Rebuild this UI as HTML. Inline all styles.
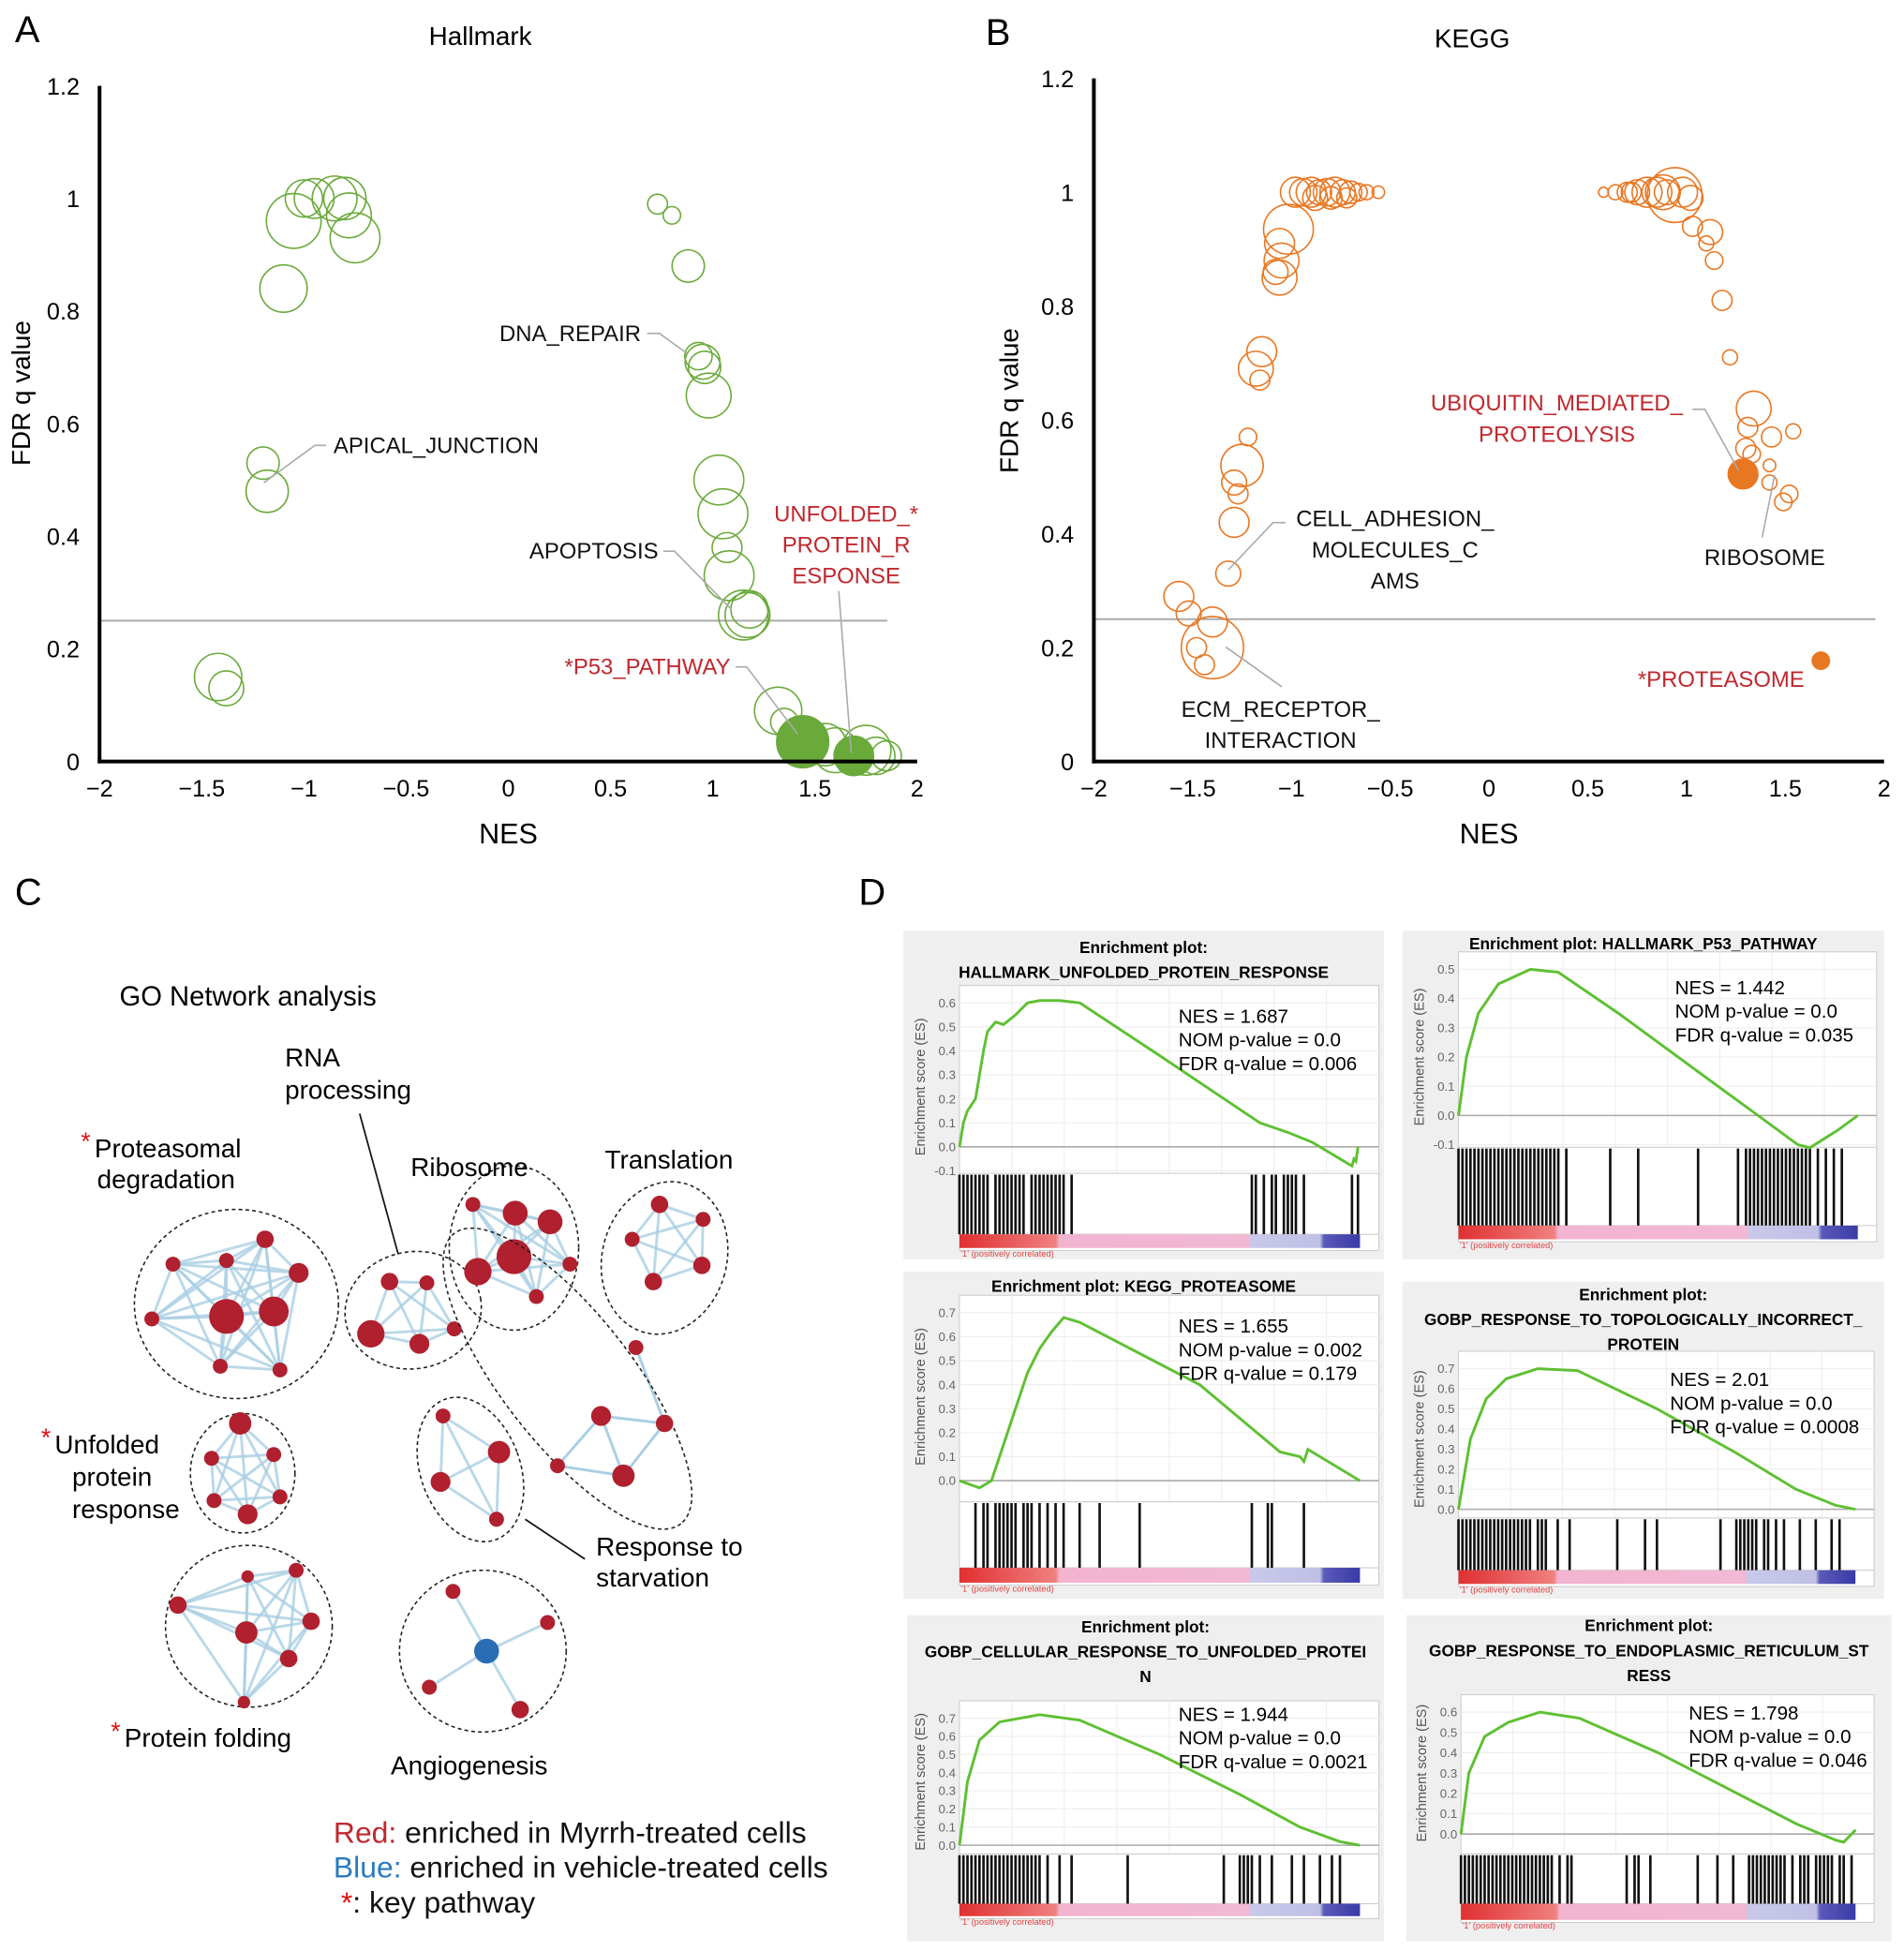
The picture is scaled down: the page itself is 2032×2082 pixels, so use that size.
<!DOCTYPE html>
<html><head><meta charset="utf-8">
<style>
html,body{margin:0;padding:0;background:#fff;}
svg{display:block;font-family:"Liberation Sans",Arial,sans-serif;}
</style></head>
<body>
<svg id="fig" width="2032" height="2082" viewBox="0 0 1530 1568" preserveAspectRatio="none" xmlns="http://www.w3.org/2000/svg">
<g id="pA"></g>
<g id="pB"></g>
<g id="pC"></g>
<g id="pD"></g>
</svg>
<script>
// ---------- Panel A data ----------
const hallNES = [-0.85,-0.8,-0.95,-1.0,-0.78,-0.75,-1.05,-1.1,0.73,0.8,0.88,0.93,0.95,0.96,0.98,-1.2,-1.18,1.03,1.05,1.07,1.08,1.15,1.17,1.18,-1.42,-1.38,1.32,1.35,1.55,1.6,1.75,1.8,1.85];
const hallFDR = [1.0,1.0,1.0,1.0,0.97,0.93,0.96,0.84,0.99,0.97,0.88,0.72,0.71,0.7,0.65,0.53,0.48,0.5,0.44,0.38,0.33,0.26,0.26,0.27,0.15,0.13,0.09,0.07,0.03,0.02,0.02,0.01,0.01];
const hallSize = [18,17,16,15,18,20,22,19,8,7,13,11,14,13,18,13,17,20,20,12,20,20,18,15,19,14,19,11,17,18,20,15,12];
const hallKeyNES = [1.44,1.69];
const hallKeyFDR = [0.035,0.01];
const hallKeySize = [21,16];
const hallTicksX = [-2,-1.5,-1,-0.5,0,0.5,1,1.5,2];
const hallTicksY = [0,0.2,0.4,0.6,0.8,1,1.2];
// ---------- Panel B data ----------
const keggNES = [-0.98,-0.94,-0.9,-0.86,-0.82,-0.78,-0.74,-0.7,-0.66,-0.62,-0.56,-0.88,-0.8,-0.72,-1.015,-1.06,-1.05,-1.08,-1.06,-1.15,-1.18,-1.16,-1.22,-1.25,-1.29,-1.27,-1.29,-1.32,-1.57,-1.52,-1.4,-1.4,-1.48,-1.44,
 0.58,0.64,0.7,0.75,0.8,0.85,0.88,0.94,0.98,1.02,0.72,0.9,1.03,1.12,1.1,1.14,1.18,1.22,1.34,1.31,1.43,1.54,1.3,1.33,1.42,1.42,1.52,1.49];
const keggFDR = [1.0,1.0,1.0,1.0,1.0,1.0,1.0,1.0,1.0,1.0,1.0,0.99,0.99,0.99,0.935,0.91,0.88,0.86,0.85,0.72,0.69,0.67,0.57,0.52,0.49,0.47,0.42,0.33,0.29,0.26,0.245,0.2,0.2,0.17,
 1.0,1.0,1.0,1.0,1.0,1.0,1.0,0.995,1.0,0.99,1.0,1.0,0.94,0.93,0.91,0.88,0.81,0.71,0.62,0.587,0.57,0.58,0.55,0.54,0.52,0.49,0.47,0.456];
const keggSize = [12,11,12,10,11,12,10,9,7,6,5,10,9,8,20,12,14,10,14,12,14,8,7,17,10,8,12,10,12,10,12,25,8,8,
 4,6,8,10,12,12,14,22,12,10,8,10,8,10,6,7,8,6,14,8,8,6,8,7,5,6,7,7];
const keggKeyNES = [1.286,1.68];
const keggKeyFDR = [0.505,0.177];
const keggKeySize = [12,7];
const keggTicksX = [-2,-1.5,-1,-0.5,0,0.5,1,1.5,2];
const keggTicksY = [0,0.2,0.4,0.6,0.8,1,1.2];
// ---------- Panel D data ----------
const es1X = [0,0.01,0.02,0.04,0.05,0.06,0.07,0.09,0.11,0.14,0.17,0.2,0.25,0.3,0.5,0.75,0.82,0.88,0.98,0.985,0.99,0.995];
const es1Y = [0,0.1,0.15,0.2,0.3,0.4,0.48,0.52,0.51,0.55,0.6,0.61,0.61,0.6,0.38,0.1,0.06,0.02,-0.08,-0.05,-0.06,0.0];
const es2X = [0,0.02,0.05,0.1,0.18,0.25,0.4,0.6,0.75,0.85,0.88,0.95,1.0];
const es2Y = [0,0.2,0.35,0.45,0.5,0.49,0.35,0.15,0.0,-0.1,-0.11,-0.05,0.0];
const es3X = [0,0.05,0.08,0.1,0.13,0.17,0.2,0.23,0.26,0.3,0.6,0.8,0.85,0.86,0.87,1.0];
const es3Y = [0,-0.03,0.0,0.1,0.25,0.45,0.55,0.62,0.68,0.66,0.4,0.12,0.1,0.08,0.13,0.0];
const es4X = [0,0.03,0.07,0.12,0.2,0.3,0.5,0.7,0.85,0.95,1];
const es4Y = [0,0.35,0.55,0.65,0.7,0.69,0.5,0.28,0.1,0.02,0];
const es5X = [0,0.02,0.05,0.1,0.2,0.3,0.5,0.7,0.85,0.95,1];
const es5Y = [0,0.35,0.58,0.68,0.72,0.69,0.5,0.28,0.1,0.02,0];
const es6X = [0,0.02,0.06,0.12,0.2,0.3,0.5,0.7,0.85,0.95,0.97,1];
const es6Y = [0,0.3,0.48,0.55,0.6,0.57,0.4,0.2,0.05,-0.03,-0.04,0.02];
const hits1 = [0.0,0.01,0.02,0.03,0.04,0.05,0.06,0.07,0.09,0.1,0.11,0.12,0.13,0.14,0.15,0.16,0.18,0.19,0.2,0.21,0.22,0.23,0.24,0.25,0.26,0.28,0.73,0.74,0.76,0.78,0.79,0.81,0.82,0.83,0.84,0.86,0.98,0.995];
const hits2 = [0.0,0.01,0.02,0.03,0.04,0.05,0.06,0.07,0.08,0.09,0.1,0.11,0.12,0.13,0.14,0.15,0.16,0.17,0.18,0.19,0.2,0.21,0.22,0.23,0.24,0.25,0.27,0.38,0.45,0.6,0.7,0.72,0.73,0.74,0.75,0.76,0.77,0.78,0.79,0.8,0.81,0.82,0.83,0.84,0.85,0.86,0.87,0.88,0.9,0.92,0.94,0.96];
const hits3 = [0.04,0.06,0.07,0.09,0.1,0.11,0.12,0.13,0.14,0.16,0.17,0.18,0.2,0.22,0.24,0.26,0.3,0.35,0.45,0.73,0.77,0.78,0.86];
const hits4 = [0.0,0.01,0.02,0.03,0.04,0.05,0.06,0.07,0.08,0.09,0.1,0.11,0.12,0.13,0.14,0.15,0.16,0.17,0.18,0.2,0.21,0.22,0.25,0.28,0.4,0.47,0.5,0.66,0.7,0.71,0.72,0.73,0.74,0.75,0.77,0.78,0.8,0.82,0.86,0.9,0.94,0.96];
const hits5 = [0.0,0.01,0.02,0.03,0.04,0.05,0.06,0.07,0.08,0.09,0.1,0.11,0.12,0.13,0.14,0.15,0.16,0.17,0.18,0.19,0.2,0.22,0.25,0.28,0.42,0.66,0.7,0.71,0.72,0.73,0.75,0.78,0.83,0.86,0.9,0.93,0.95];
const hits6 = [0.0,0.01,0.02,0.03,0.04,0.05,0.06,0.07,0.08,0.09,0.1,0.11,0.12,0.13,0.14,0.15,0.16,0.17,0.18,0.19,0.2,0.21,0.22,0.23,0.25,0.27,0.28,0.42,0.44,0.45,0.48,0.6,0.65,0.69,0.73,0.74,0.75,0.76,0.77,0.78,0.79,0.8,0.81,0.82,0.84,0.86,0.87,0.88,0.9,0.91,0.92,0.93,0.94,0.96,0.97,0.99];
const esTicks1 = [-0.1,0,0.1,0.2,0.3,0.4,0.5,0.6];
const esTicks2 = [-0.1,0,0.1,0.2,0.3,0.4,0.5];
const esTicks3 = [0,0.1,0.2,0.3,0.4,0.5,0.6,0.7];
const esTicks4 = [0,0.1,0.2,0.3,0.4,0.5,0.6,0.7];
const esTicks5 = [0,0.1,0.2,0.3,0.4,0.5,0.6,0.7];
const esTicks6 = [0,0.1,0.2,0.3,0.4,0.5,0.6];

const NS="http://www.w3.org/2000/svg";
function mk(parent, tag, attrs, text){
  const e=document.createElementNS(NS,tag);
  for(const k in attrs) e.setAttribute(k,attrs[k]);
  if(text!==undefined) e.textContent=text;
  parent.appendChild(e); return e;
}
function fmt(v){ return (v<0?'\u2212':'')+String(Math.abs(v)); }

function scatter(g, cfg){
  const sx=v=>cfg.x0+(v-(-2))/4*(cfg.x1-cfg.x0);
  const sy=v=>cfg.y0-(v/1.2)*(cfg.y0-cfg.y1);
  let t=mk(g,'text',{x:cfg.letterX,y:cfg.letterY,'font-size':30},cfg.letter);
  
  
  t=mk(g,'text',{x:cfg.titleX,y:cfg.titleY,'font-size':21,'text-anchor':'middle'},cfg.title);
  
  
  let l=mk(g,'line',{x1:cfg.x0,x2:cfg.thrX2,y1:sy(0.25),y2:sy(0.25),stroke:'#aaa','stroke-width':1.5});
  
  
  for(let i=0;i<cfg.nes.length;i++){
    const c=mk(g,'circle',{cx:sx(cfg.nes[i]),cy:sy(cfg.fdr[i]),r:cfg.size[i],fill:'none',stroke:cfg.color,'stroke-width':1.2});
    
    
  }
  for(let i=0;i<cfg.kNes.length;i++){
    const c=mk(g,'circle',{cx:sx(cfg.kNes[i]),cy:sy(cfg.kFdr[i]),r:cfg.kSize[i],fill:cfg.color,stroke:cfg.color});
    
    
  }
  l=mk(g,'line',{x1:cfg.x0,x2:cfg.x0,y1:cfg.y1,y2:cfg.y0+1.5,stroke:'#000','stroke-width':3});
  
  
  l=mk(g,'line',{x1:cfg.x0-1.5,x2:cfg.x1,y1:cfg.y0,y2:cfg.y0,stroke:'#000','stroke-width':3});
  
  
  cfg.tx.forEach(v=>{
    const tt=mk(g,'text',{x:sx(v),y:cfg.y0+28,'font-size':19,'text-anchor':'middle'},fmt(v));
    
    
  });
  cfg.ty.forEach(v=>{
    const tt=mk(g,'text',{x:cfg.x0-16,y:sy(v)+7,'font-size':19,'text-anchor':'end'},String(v));
    
    
  });
  t=mk(g,'text',{x:(cfg.x0+cfg.x1)/2,y:cfg.y0+66,'font-size':23,'text-anchor':'middle'},'NES');
  
  
  t=mk(g,'text',{x:0,y:0,'font-size':21,'text-anchor':'middle',transform:`translate(${cfg.ytX},${cfg.ytY}) rotate(-90)`},'FDR q value');
  
  
  cfg.labels.forEach(L=>{
    L.lines.forEach((s,j)=>{
      const tt=mk(g,'text',{x:L.x,y:L.y+j*25,'font-size':18,'text-anchor':L.anchor,fill:L.red?'#c0282e':'#111'},s);
      
      
    });
    const pl=mk(g,'polyline',{points:L.leader,fill:'none',stroke:'#aaa','stroke-width':1.2});
    
    
  });
}
scatter(document.getElementById('pA'),{x0:80,x1:737,y0:612,y1:69,thrX2:713,color:'#6aaa3a',
 nes:hallNES,fdr:hallFDR,size:hallSize,kNes:hallKeyNES,kFdr:hallKeyFDR,kSize:hallKeySize,tx:hallTicksX,ty:hallTicksY,
 letter:'A',letterX:12,letterY:34,title:'Hallmark',titleX:386,titleY:36,ytX:24,ytY:316,
 labels:[
  {lines:['DNA_REPAIR'],x:515,y:274,anchor:'end',leader:'520,268 530,268 552,284'},
  {lines:['APICAL_JUNCTION'],x:268,y:364,anchor:'start',leader:'262,358 253,358 212,388'},
  {lines:['APOPTOSIS'],x:529,y:449,anchor:'end',leader:'533,443 542,443 588,490'},
  {lines:['UNFOLDED_*','PROTEIN_R','ESPONSE'],x:680,y:419,anchor:'middle',red:1,leader:'674,475 684,605'},
  {lines:['*P53_PATHWAY'],x:587,y:542,anchor:'end',red:1,leader:'591,536 600,536 641,590'}
 ]});
scatter(document.getElementById('pB'),{x0:879,x1:1514,y0:612,y1:63,thrX2:1507,color:'#e87722',
 nes:keggNES,fdr:keggFDR,size:keggSize,kNes:keggKeyNES,kFdr:keggKeyFDR,kSize:keggKeySize,tx:keggTicksX,ty:keggTicksY,
 letter:'B',letterX:792,letterY:36,title:'KEGG',titleX:1183,titleY:38,ytX:818,ytY:322,
 labels:[
  {lines:['UBIQUITIN_MEDIATED_','PROTEOLYSIS'],x:1251,y:330,anchor:'middle',red:1,leader:'1360,329 1370,329 1397,378'},
  {lines:['CELL_ADHESION_','MOLECULES_C','AMS'],x:1121,y:423,anchor:'middle',leader:'1033,420 1023,420 987,458'},
  {lines:['RIBOSOME'],x:1418,y:454,anchor:'middle',leader:'1416,432 1426,382'},
  {lines:['ECM_RECEPTOR_','INTERACTION'],x:1029,y:576,anchor:'middle',leader:'1030,552 985,520'},
  {lines:['*PROTEASOME'],x:1450,y:552,anchor:'end',red:1,leader:'1462,535 1462,535'}
 ]});

(function(){
  const g=document.getElementById('pC');
  let t=mk(g,'text',{x:12,y:727,'font-size':30},'C');
  
  
  t=mk(g,'text',{x:96,y:808,'font-size':22},'GO Network analysis');
  
  
  const clusters=[
   {name:'proteasomal-degradation',e:[190,1048,82,76,0],n:[[182,1058,14],[220,1054,12],[213,996,7],[182,1013,6],[139,1016,6],[122,1060,6],[177,1098,6],[225,1101,6],[240,1023,8]]},
   {name:'unfolded-protein-response',e:[195,1184,42,48,0],n:[[193,1144,9],[170,1172,6],[220,1169,6],[172,1206,6],[199,1217,8],[225,1203,6]]},
   {name:'protein-folding',e:[200,1307,67,65,0],n:[[143,1290,7],[199,1267,5],[238,1262,6],[250,1303,7],[198,1312,9],[232,1333,7],[196,1368,5]]},
   {name:'rna-processing',e:[332,1053,55,47,-10],n:[[313,1030,7],[343,1031,6],[298,1072,11],[337,1080,8],[365,1068,6]]},
   {name:'ribosome',e:[413,1003,52,66,0],n:[[380,968,6],[414,975,10],[442,982,10],[413,1010,14],[384,1022,11],[458,1016,6],[431,1042,6]]},
   {name:'translation',e:[534,1011,50,62,15],n:[[530,968,7],[565,980,6],[508,996,6],[564,1017,7],[525,1030,7]]},
   {name:'response-to-starvation',e:[378,1181,40,60,-20],n:[[356,1138,6],[401,1167,9],[354,1191,8],[399,1221,6]]},
   {name:'angiogenesis',e:[388,1327,67,65,0],n:[[391,1327,10,1],[364,1279,6],[440,1304,6],[345,1356,6],[418,1374,7]]}
  ];
  const edges=[];
  clusters.forEach(c=>{ for(let i=0;i<c.n.length;i++) for(let j=i+1;j<c.n.length;j++){
    if(c.name==='angiogenesis' && i!==0) continue;
    edges.push([c.n[i],c.n[j]]);
  }});
  edges.forEach(([a,b])=>{
    const l=mk(g,'line',{x1:a[0],y1:a[1],x2:b[0],y2:b[1],stroke:'#a9cfe3','stroke-width':2.2,opacity:0.8});
    
    
  });
  const longN=[[511,1083,6],[483,1138,8],[534,1144,7],[448,1178,6],[501,1186,9]];
  [[0,2],[1,2],[1,3],[1,4],[3,4],[2,4]].forEach(([i,j])=>{
    const l=mk(g,'line',{x1:longN[i][0],y1:longN[i][1],x2:longN[j][0],y2:longN[j][1],stroke:'#a9cfe3','stroke-width':2.2});
    
    
  });
  clusters.forEach(c=>{
    const [cx,cy,rx,ry,rot]=c.e;
    const el=mk(g,'ellipse',{cx,cy,rx,ry,transform:`rotate(${rot} ${cx} ${cy})`,fill:'none',stroke:'#222','stroke-width':1.2,'stroke-dasharray':'3,2.5'});
    
    
    c.n.forEach(n=>{
      const nd=mk(g,'circle',{cx:n[0],cy:n[1],r:n[2],fill:n[3]?'#2a6db5':'#b0202e'});
      
      
    });
  });
  let el=mk(g,'ellipse',{cx:456,cy:1108,rx:148,ry:52,transform:'rotate(52 456 1108)',fill:'none',stroke:'#222','stroke-width':1.2,'stroke-dasharray':'3,2.5'});
  
  
  longN.forEach(n=>{
    const nd=mk(g,'circle',{cx:n[0],cy:n[1],r:n[2],fill:'#b0202e'});
    
    
  });
  let l=mk(g,'line',{x1:289,y1:895,x2:320,y2:1008,stroke:'#111','stroke-width':1.3});
  
  
  l=mk(g,'line',{x1:422,y1:1221,x2:470,y2:1253,stroke:'#111','stroke-width':1.3});
  
  
  const labs=[['RNA',229,857,0],['processing',229,883,0],['Proteasomal',76,930,1],['degradation',78,955,0],['Ribosome',330,945,0],['Translation',486,939,0],
   ['Unfolded',44,1168,1],['protein',58,1194,0],['response',58,1220,0],['Response to',479,1250,0],['starvation',479,1275,0],['Protein folding',100,1404,1],['Angiogenesis',314,1426,0]];
  labs.forEach(([s,x,y,star])=>{
    const tt=mk(g,'text',{x,y,'font-size':21},s);
    
    
    if(star){
      const st=mk(g,'text',{x:x-11,y:y-6,'font-size':20,fill:'#e01010'},'*');
      
      
    }
  });
  const leg=[[['Red:','#c0282e'],[' enriched in Myrrh-treated cells','#111']],[['Blue:','#2a7ac0'],[' enriched in vehicle-treated cells','#111']],[['*','#e01010'],[': key pathway','#111']]];
  leg.forEach((parts,i)=>{
    const tt=mk(g,'text',{x:i===2?274:268,y:1481+i*28,'font-size':24});
    
    
    parts.forEach(p=>mk(tt,'tspan',{fill:p[1]},p[0]));
  });
})();

(function(){
  const g=document.getElementById('pD');
  let t=mk(g,'text',{x:690,y:727,'font-size':30},'D');
  
  
  const plots=[
   {box:[726,748,386,264],tl:['Enrichment plot:','HALLMARK_UNFOLDED_PROTEIN_RESPONSE'],ty:766,px:[771,1108],esT:806,esB:941,yTop:0.6,yBot:-0.1,hB:992,bB:1003,ex:es1X,ey:es1Y,hits:hits1,ticks:esTicks1,st:['NES = 1.687','NOM p-value = 0.0','FDR q-value = 0.006'],sx:947,sy:822},
   {box:[1127,748,387,264],tl:['Enrichment plot: HALLMARK_P53_PATHWAY'],ty:763,px:[1172,1508],esT:779,esB:920,yTop:0.5,yBot:-0.1,hB:985,bB:996,ex:es2X,ey:es2Y,hits:hits2,ticks:esTicks2,st:['NES = 1.442','NOM p-value = 0.0','FDR q-value = 0.035'],sx:1346,sy:799},
   {box:[726,1022,386,263],tl:['Enrichment plot: KEGG_PROTEASOME'],ty:1038,px:[771,1108],esT:1055,esB:1190,yTop:0.7,yBot:0,hB:1260,bB:1272,hT:1207,ex:es3X,ey:es3Y,hits:hits3,ticks:esTicks3,st:['NES = 1.655','NOM p-value = 0.002','FDR q-value = 0.179'],sx:947,sy:1071},
   {box:[1127,1030,387,255],tl:['Enrichment plot:','GOBP_RESPONSE_TO_TOPOLOGICALLY_INCORRECT_','PROTEIN'],ty:1045,px:[1172,1506],esT:1100,esB:1213,yTop:0.7,yBot:0,hB:1262,bB:1273,hT:1220,ex:es4X,ey:es4Y,hits:hits4,ticks:esTicks4,st:['NES = 2.01','NOM p-value = 0.0','FDR q-value = 0.0008'],sx:1342,sy:1114},
   {box:[729,1298,383,262],tl:['Enrichment plot:','GOBP_CELLULAR_RESPONSE_TO_UNFOLDED_PROTEI','N'],ty:1312,px:[771,1108],esT:1381,esB:1483,yTop:0.7,yBot:0,hB:1530,bB:1540,hT:1490,ex:es5X,ey:es5Y,hits:hits5,ticks:esTicks5,st:['NES = 1.944','NOM p-value = 0.0','FDR q-value = 0.0021'],sx:947,sy:1383},
   {box:[1130,1298,390,262],tl:['Enrichment plot:','GOBP_RESPONSE_TO_ENDOPLASMIC_RETICULUM_ST','RESS'],ty:1311,px:[1174,1506],esT:1376,esB:1474,yTop:0.6,yBot:0,hB:1530,bB:1543,hT:1490,ex:es6X,ey:es6Y,hits:hits6,ticks:esTicks6,st:['NES = 1.798','NOM p-value = 0.0','FDR q-value = 0.046'],sx:1357,sy:1382}
  ];
  const defs=mk(document.getElementById('fig'),'defs',{});
  const grad=mk(defs,'linearGradient',{id:'rankbar',x1:0,x2:1,y1:0,y2:0});
  [[0,'#e03030'],[0.24,'#f08080'],[0.25,'#f2b4d0'],[0.72,'#f2b8d4'],[0.73,'#c8c8ea'],[0.9,'#c0c0e6'],[0.91,'#5a5ab8'],[1,'#3a3aa8']].forEach(s=>mk(grad,'stop',{offset:s[0],'stop-color':s[1]}));
  plots.forEach((p,k)=>{
    const pg=mk(g,'g',{});
    
    
    const [bx,by,bw,bh]=p.box;
    mk(pg,'rect',{x:bx,y:by,width:bw,height:bh,fill:'#efefef'});
    const [x0,x1]=p.px;
    const hT=p.hT||p.esB+2;
    mk(pg,'rect',{x:x0,y:p.esT-14,width:x1-x0,height:p.bB-p.esT+16,fill:'#fff',stroke:'#ccc','stroke-width':0.8});
    p.tl.forEach((s,i)=>{
      const tt=mk(pg,'text',{x:bx+bw/2,y:p.ty+i*20,'font-size':13,'font-weight':'bold','text-anchor':'middle'},s);
      
      
    });
    const plotR=x0+(x1-x0)*0.955;
    const sx=f=>x0+f*(plotR-x0);
    const sy=v=>p.esB-(v-p.yBot)/(p.yTop-p.yBot)*(p.esB-p.esT);
    for(let i=1;i<8;i++) mk(pg,'line',{x1:x0+i*(x1-x0)/8,x2:x0+i*(x1-x0)/8,y1:p.esT-14,y2:hT,stroke:'#eee','stroke-width':0.8});
    p.ticks.forEach(v=>{
      mk(pg,'line',{x1:x0,x2:x1,y1:sy(v),y2:sy(v),stroke:v===0?'#aaa':'#eee','stroke-width':v===0?1.2:0.8});
      const tt=mk(pg,'text',{x:x0-3,y:sy(v)+3.5,'font-size':10,'text-anchor':'end',fill:'#666'},v.toFixed(1));
      
      
    });
    const yt=mk(pg,'text',{x:0,y:0,'font-size':11,fill:'#555','text-anchor':'middle',transform:`translate(${x0-28},${(p.esT+p.esB)/2}) rotate(-90)`},'Enrichment score (ES)');
    
    
    mk(pg,'line',{x1:x0,x2:x1,y1:hT,y2:hT,stroke:'#ccc','stroke-width':0.8});
    mk(pg,'line',{x1:x0,x2:x1,y1:p.hB,y2:p.hB,stroke:'#ccc','stroke-width':0.8});
    p.hits.forEach(f=>{
      const hl=mk(pg,'line',{x1:sx(f),x2:sx(f),y1:hT+1,y2:p.hB,stroke:'#111','stroke-width':2});
      
      
    });
    const rb=mk(pg,'rect',{x:x0,y:p.hB,width:plotR-x0,height:p.bB-p.hB,fill:'url(#rankbar)'});
    
    
    mk(pg,'text',{x:x0+1,y:p.bB+7,'font-size':7,fill:'#e04040'},"'1' (positively correlated)");
    const pts=p.ex.map((f,i)=>sx(f).toFixed(1)+','+sy(p.ey[i]).toFixed(1)).join(' ');
    const cl=mk(pg,'polyline',{points:pts,fill:'none',stroke:'#5ec032','stroke-width':2.2});
    
    
    p.st.forEach((s,i)=>{
      const tt=mk(pg,'text',{x:p.sx,y:p.sy+i*19,'font-size':15.5},s);
      
      
    });
  });
})();
</script>
</body></html>
